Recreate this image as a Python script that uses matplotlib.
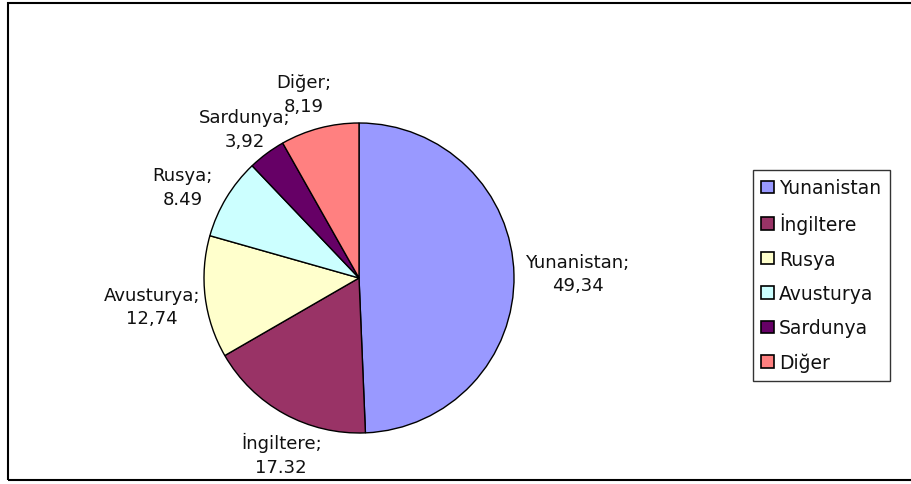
import matplotlib
matplotlib.use("Agg")
import matplotlib.pyplot as plt
import numpy as np
from matplotlib.patches import Rectangle

# data
categories = ["Yunanistan", "İngiltere", "Rusya", "Avusturya", "Sardunya", "Diğer"]
values = [49.34, 17.32, 12.74, 8.49, 3.92, 8.19]
slice_labels = ["Yunanistan;\n49,34", "İngiltere;\n17.32", "Avusturya;\n12,74",
                "Rusya;\n8.49", "Sardunya;\n3,92", "Diğer;\n8,19"]
colors = ["#9999FF", "#993366", "#FFFFCC", "#CCFFFF", "#660066", "#FF8080"]

plt.rcParams['font.family'] = ['DejaVu Sans']

W, H = 912, 485
fig = plt.figure(figsize=(W / 100, H / 100), dpi=100)

# outer border of the chart area
fig.patches.append(Rectangle((8 / W, 4 / H), 1.2, 477 / H, transform=fig.transFigure,
                             fill=False, edgecolor="black", linewidth=1.5))

cx, cy, r = 359, 279, 155
ax = fig.add_axes([(cx - r) / W, (H - cy - r) / H, 2 * r / W, 2 * r / H])
wedges, _ = ax.pie(values, colors=colors, startangle=90, counterclock=False,
                   radius=1.0, wedgeprops=dict(edgecolor="black", linewidth=1))
ax.set_xlim(-1, 1)
ax.set_ylim(-1, 1)
ax.set_aspect("equal")
ax.axis("off")

# label placement (Excel best fit): distance in radii, angle shift in degrees
dist = [1.41, 1.24, 1.35, 1.28, 1.21, 1.24]
shift = [0, 4.9, 0.7, 3.9, 0.9, 2.0]
for w, lab, d, s in zip(wedges, slice_labels, dist, shift):
    ang = np.deg2rad((w.theta1 + w.theta2) / 2 + s)
    ax.text(d * np.cos(ang), d * np.sin(ang), lab, ha="center", va="center",
            fontsize=13, linespacing=1.4, color="#111111", clip_on=False)

leg = fig.legend(wedges, categories, loc="upper left",
                 bbox_to_anchor=(753 / W, 1 - 171 / H), fontsize=13.5,
                 frameon=True, fancybox=False, edgecolor="black",
                 handlelength=0.65, handleheight=0.65, handletextpad=0.3,
                 labelspacing=0.82, borderpad=0.45, borderaxespad=0)
leg.get_frame().set_linewidth(1)
for h in leg.legend_handles:
    h.set_edgecolor("black")
    h.set_linewidth(1.2)
for t in leg.get_texts():
    t.set_color("#111111")

fig.savefig("out.png", dpi=100)
